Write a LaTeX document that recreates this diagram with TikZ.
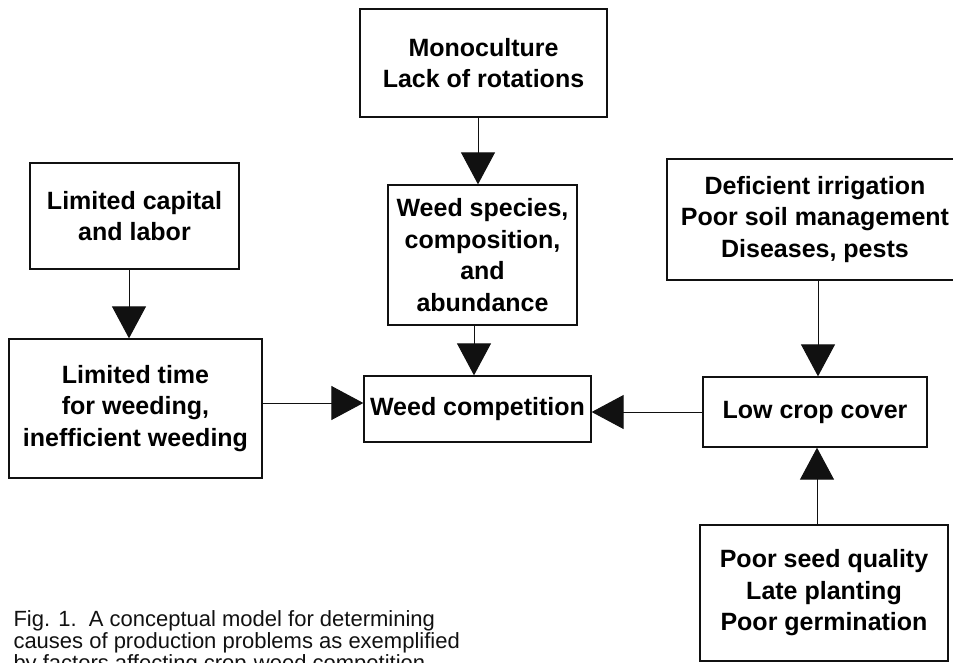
\documentclass[tikz,border=0pt]{standalone}
\usepackage{fontspec}
\setmainfont{Liberation Sans}
\setsansfont{Liberation Sans}
\usetikzlibrary{arrows.meta, positioning}
\definecolor{cink}{HTML}{111111}
\tikzset{
  every picture/.style={font=\sffamily, line width=1pt},
  box/.style={draw=cink, line width=1.3pt, align=center, inner sep=0pt,
    font=\sffamily\bfseries\fontsize{25}{31.5}\selectfont},
  arrow/.style={-{Triangle[length=32pt, width=34pt]}, draw=cink, fill=cink, line width=1pt},
  caption/.style={font=\sffamily\fontsize{22}{22}\selectfont, text=cink, align=left, inner sep=0pt},
}

\begin{document}
\begin{tikzpicture}[x=1pt, y=-1pt]
  \useasboundingbox (0,0) rectangle (953,662);
  \clip (0,0) rectangle (953,662);
  % middle column
  \node[box, minimum width=247pt, minimum height=108pt] (mono) at (483.5,63) {Monoculture\\Lack of rotations};
  \node[box, minimum width=189pt, minimum height=140pt] (species) at (482.5,255) {Weed species,\\composition,\\and\\abundance};
  \node[box, minimum width=227pt, minimum height=66pt] (comp) at (477.5,409) {Weed competition};
  % left column
  \node[box, minimum width=209pt, minimum height=106pt] (capital) at (134.5,216) {Limited capital\\and labor};
  \node[box, minimum width=253pt, minimum height=139pt] (weeding) at (135.5,408.5) {Limited time\\for weeding,\\inefficient weeding};
  % right column
  \node[box, minimum width=296pt, minimum height=121pt] (irrig) at (815,219.5) {Deficient irrigation\\Poor soil management\\Diseases, pests};
  \node[box, minimum width=224pt, minimum height=70pt] (cover) at (815,412) {Low crop cover};
  \node[box, minimum width=248pt, minimum height=136pt] (seed) at (824,593) {Poor seed quality\\Late planting\\Poor germination};

  \draw[arrow] ([xshift=-5.5pt]mono.south) -- ([xshift=-4.5pt]species.north);
  \draw[arrow] ([xshift=-8.5pt]species.south) -- ([xshift=-3.5pt]comp.north);
  \draw[arrow] ([xshift=-5.5pt]capital.south) -- ([xshift=-6.5pt]weeding.north);
  \draw[arrow] ([yshift=5.5pt]weeding.east) -- ([yshift=6pt]comp.west);
  \draw[arrow] ([xshift=3pt]irrig.south) -- ([xshift=3pt]cover.north);
  \draw[arrow] ([xshift=-7pt]seed.north) -- ([xshift=2pt]cover.south);
  \draw[arrow] (cover.west) -- ([yshift=-3pt]comp.east);

  \node[caption, anchor=north west] (cap) at (13,610) {Fig. 1.\ \ A conceptual model for determining\\causes of production problems as exemplified\\by factors affecting crop-weed competition.};
\end{tikzpicture}
\end{document}
